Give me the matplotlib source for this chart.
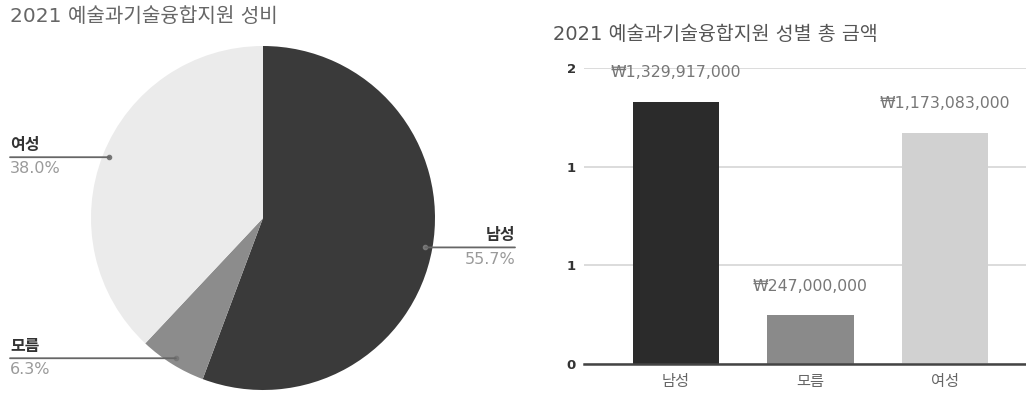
import numpy as np
import matplotlib
matplotlib.use("Agg")
import matplotlib.pyplot as plt

plt.rcParams['font.family'] = ['DejaVu Sans', 'Noto Sans CJK KR']

# ---- data ----
pie_title = "2021 예술과기술융합지원 성비"
bar_title = "2021 예술과기술융합지원 성별 총 금액"
categories = ["남성", "모름", "여성"]
pie_shares = [55.7, 6.3, 38.0]
amounts = [1329917000, 247000000, 1173083000]
ytick_values = [0, 0.5e9, 1.0e9, 1.5e9]
ytick_labels = ["0", "1", "1", "2"]

pie_colors = ["#3a3a3a", "#8c8c8c", "#ebebeb"]
bar_colors = ["#2b2b2b", "#8a8a8a", "#d1d1d1"]

W, H = 1026, 394
fig = plt.figure(figsize=(W / 100, H / 100), dpi=100)

def fx(px):
    return px / W

def fy(py):
    return 1 - py / H

# ---- pie ----
cx, cy, R = 263, 218, 172
axp = fig.add_axes([fx(cx - R), fy(cy + R), 2 * R / W, 2 * R / H])
wedges, _ = axp.pie(pie_shares, colors=pie_colors, startangle=90, counterclock=False,
                    radius=1.0, wedgeprops=dict(linewidth=0))
axp.set_xlim(-1, 1)
axp.set_ylim(-1, 1)
axp.set_aspect('equal')
axp.axis('off')

label_x = {"남성": (515, 'right'), "모름": (10, 'left'), "여성": (10, 'left')}
for w, name, share in zip(wedges, categories, pie_shares):
    mid = np.deg2rad((w.theta1 + w.theta2) / 2)
    px, py = 0.96 * np.cos(mid), 0.96 * np.sin(mid)
    tx, ha = label_x[name]
    axp.annotate('', xy=(px, py), xycoords='data',
                 xytext=(fx(tx), py), textcoords=('figure fraction', 'data'),
                 arrowprops=dict(arrowstyle='-', color='#666666', lw=1.3,
                                 shrinkA=0, shrinkB=0), annotation_clip=False)
    axp.plot([px], [py], marker='o', ms=3, color='#777777', clip_on=False)
    axp.annotate(name, xy=(fx(tx), py), xycoords=('figure fraction', 'data'),
                 xytext=(0, 3), textcoords='offset points', ha=ha, va='bottom',
                 fontsize=11.5, fontweight='bold', color='#333333', annotation_clip=False)
    axp.annotate(f"{share:.1f}%", xy=(fx(tx), py), xycoords=('figure fraction', 'data'),
                 xytext=(0, -3), textcoords='offset points', ha=ha, va='top',
                 fontsize=11.5, color='#9a9a9a', annotation_clip=False)

fig.text(fx(10), fy(17), pie_title, ha='left', va='center', fontsize=14.5, color='#666666')

# ---- bar ----
axb = fig.add_axes([fx(584), fy(364), (1026 - 584) / W, (364 - 68) / H])
x = np.arange(len(categories))
bars = axb.bar(x, amounts, width=0.64, color=bar_colors, zorder=3)
axb.set_xlim(-0.68, 2.6)
axb.set_ylim(0, 1.5e9)
axb.set_yticks(ytick_values)
axb.set_yticklabels(ytick_labels, fontsize=9.5, fontweight='bold', color='#333333')
axb.set_xticks(x)
axb.set_xticklabels(categories, fontsize=11, color='#666666')
axb.tick_params(axis='both', length=0)
axb.tick_params(axis='y', pad=6)
axb.tick_params(axis='x', pad=7)
axb.grid(axis='y', color='#d6d6d6', lw=1.2, zorder=0)
for s in ['top', 'right', 'left']:
    axb.spines[s].set_visible(False)
axb.spines['bottom'].set_color('#444444')
axb.spines['bottom'].set_linewidth(1.8)
axb.spines['bottom'].set_zorder(4)

for xi, v in zip(x, amounts):
    axb.annotate(f"₩{v:,}", xy=(xi, v), xytext=(0, 21), textcoords='offset points',
                 ha='center', va='center', fontsize=11.3, color='#777777', zorder=5,
                 annotation_clip=False)

fig.text(fx(553), fy(35), bar_title, ha='left', va='center', fontsize=14, color='#555555')

fig.savefig("out.png", dpi=100, facecolor='white')
